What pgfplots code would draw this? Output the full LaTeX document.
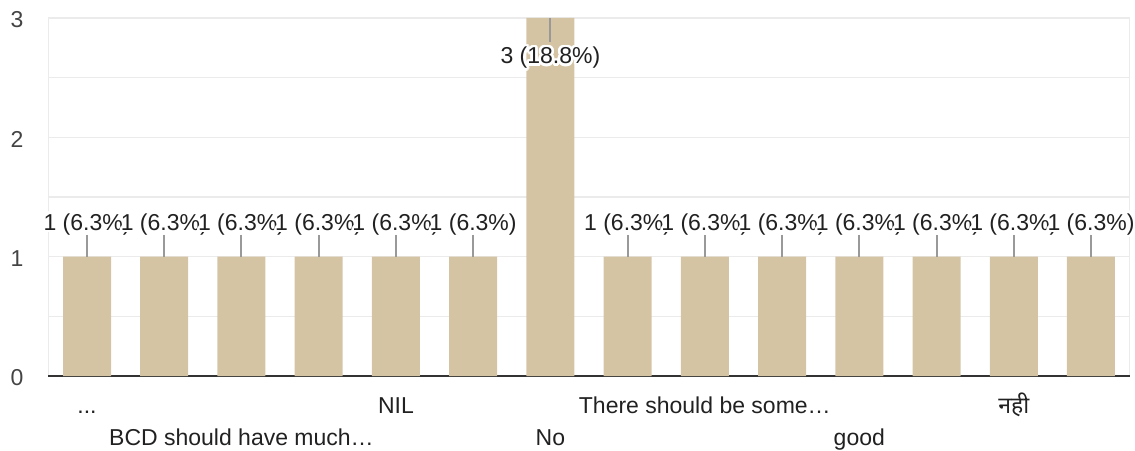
\documentclass[border=0pt]{standalone}
\usepackage{fontspec}
\setmainfont{Liberation Sans}
\newfontfamily\devfont[Script=Devanagari]{Noto Sans}
\usepackage{pgfplots}
\pgfplotsset{compat=1.18}
\usepackage{contour}
\contourlength{1.3pt}
\definecolor{barc}{RGB}{213,196,164}
\definecolor{gridc}{RGB}{235,235,235}
\definecolor{axisc}{RGB}{51,51,51}
\definecolor{txtc}{RGB}{33,33,33}
\definecolor{tickc}{RGB}{68,68,68}
\definecolor{leadc}{RGB}{153,153,153}

% x = category, y = count, pct = share, ep/em = leader length (data units), dy = label offset
\pgfplotstableread{
x y pct ep em dy
0 1 6.3 0.184 0 15.5
1 1 6.3 0.184 0 15.5
2 1 6.3 0.184 0 15.5
3 1 6.3 0.184 0 15.5
4 1 6.3 0.184 0 15.5
5 1 6.3 0.184 0 15.5
6 3 18.8 0 0.201 -20.5
7 1 6.3 0.184 0 15.5
8 1 6.3 0.184 0 15.5
9 1 6.3 0.184 0 15.5
10 1 6.3 0.184 0 15.5
11 1 6.3 0.184 0 15.5
12 1 6.3 0.184 0 15.5
13 1 6.3 0.184 0 15.5
}\answers

\begin{document}
\begin{tikzpicture}
\useasboundingbox (-24.2pt,-37pt) rectangle (543.3pt,188pt);
\begin{axis}[
    scale only axis,
    width=540.6pt,
    height=179pt,
    font=\fontsize{11.5pt}{13pt}\selectfont,
    ybar,
    bar width=24pt,
    bar shift=0pt,
    xmin=-0.5, xmax=13.5,
    ymin=0, ymax=3,
    ytick={0,1,2,3},
    minor ytick={0.5,1.5,2.5},
    ymajorgrids, yminorgrids,
    major grid style={draw=gridc, line width=0.8pt},
    minor grid style={draw=gridc, line width=0.8pt},
    separate axis lines,
    x axis line style={draw=none},
    y axis line style={draw=gridc, line width=0.8pt},
    major tick length=0pt,
    minor tick length=0pt,
    yticklabel style={text=tickc, xshift=-9pt, yshift=-1pt},
    /pgf/number format/assume math mode=true,
    xtick={0,4,8,12},
    xticklabels={{.{}.{}.},{NIL},{There should be some…},{\devfont नही}},
    xticklabel style={text=txtc, anchor=base, yshift=-18.5pt},
    extra x ticks={2,6,10},
    extra x tick labels={{BCD should have much…},{No},{good}},
    extra x tick style={xticklabel style={yshift=-16pt}},
    extra y ticks={0},
    extra y tick labels={},
    extra y tick style={ymajorgrids=true, major grid style={draw=axisc, line width=1pt}},
    visualization depends on={\thisrow{pct} \as \pct},
    visualization depends on={\thisrow{dy} \as \dy},
    nodes near coords={\contour{white}{\pgfmathprintnumber{\pgfplotspointmeta} (\pgfmathprintnumber[fixed,precision=1]{\pct}\%)}},
    every node near coord/.append style={text=txtc, anchor=center, yshift=\dy pt, inner sep=0pt},
]
\addplot[fill=barc, draw=none,
    error bars/.cd, y dir=both, y explicit,
    error mark=none,
    error bar style={draw=leadc, line width=1pt}]
    table[x=x, y=y, y error plus=ep, y error minus=em] {\answers};
\end{axis}
\end{tikzpicture}
\end{document}
